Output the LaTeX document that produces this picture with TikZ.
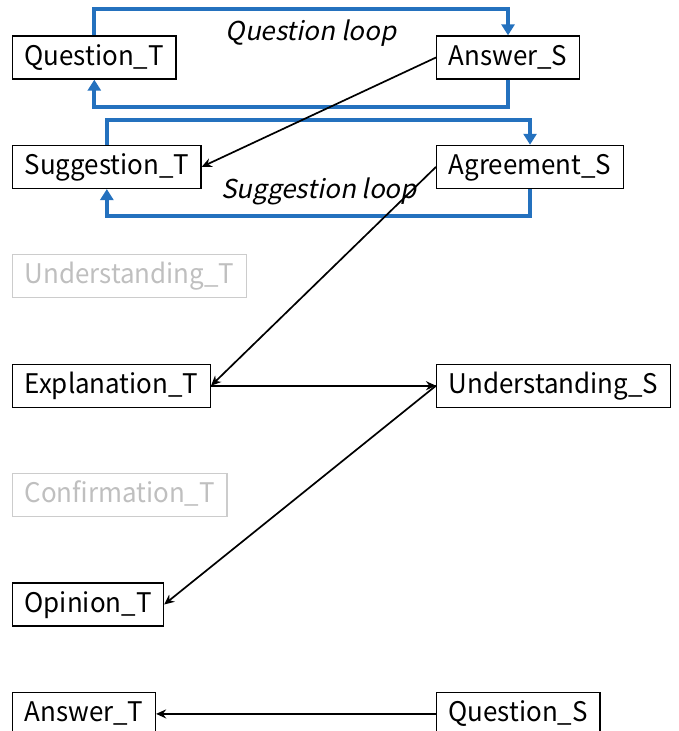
\documentclass[tikz,border=0pt]{standalone}
\usepackage{fontspec}
\setmainfont[FakeStretch=0.96]{Noto Sans CJK JP}
\newfontfamily\loopfont[FakeSlant=0.2]{Noto Sans CJK JP}
\usepackage{xcolor}
\usepackage{tikz}
\usetikzlibrary{arrows.meta}
\definecolor{loopblue}{RGB}{36,113,190}
\tikzstyle{act}=[draw,line width=1.3pt,anchor=west,minimum height=43pt,inner xsep=12pt,inner ysep=2pt,text height=20pt,text depth=5pt,font=\fontsize{27}{30}\selectfont]
\tikzstyle{unused}=[act,draw=black!20,text=black!25]
\tikzstyle{loopline}=[draw=loopblue,line width=4pt,-{Triangle[length=11pt,width=13pt]}]
\tikzstyle{turn}=[line width=1.7pt,-{Stealth[length=10pt,width=9pt]}]
\tikzstyle{looplabel}=[font=\loopfont\fontsize{26}{30}\selectfont]

\begin{document}
\begin{tikzpicture}[x=1pt,y=-1pt]
        \useasboundingbox (0,0) rectangle (678,731);
        \node at ( 12, 57.5) [act] (QT) {Question\_T};
        \node at ( 12,166.9) [act] (ST) {Suggestion\_T};
        \node at ( 12,276.3) [unused] (UT) {Understanding\_T};
        \node at ( 12,385.7) [act] (ET) {Explanation\_T};
        \node at ( 12,495.1) [unused] (CT) {Confirmation\_T};
        \node at ( 12,604.5) [act] (OT) {Opinion\_T};
        \node at ( 12,713.9) [act] (AT) {Answer\_T};
        \node at (436, 57.5) [act] (AS) {Answer\_S};
        \node at (436,166.9) [act] (GS) {Agreement\_S};
        \node at (436,385.7) [act] (US) {Understanding\_S};
        \node at (436,713.9) [act] (QS) {Question\_S};
        \draw [loopline] (QT.north) -- ++(0,-26) -| (AS.north);
        \draw [loopline] (AS.south) -- ++(0,27) -| (QT.south);
        \draw [loopline] (ST.north) -- ++(0,-25) -| (GS.north);
        \draw [loopline] (GS.south) -- ++(0,27) -| (ST.south);
        \node at (311,33) [looplabel] (qloop) {Question loop};
        \node at (319,191) [looplabel] (sloop) {Suggestion loop};
        \draw [turn] (AS.west) to (ST.east);
        \draw [turn] (GS.west) to (ET.east);
        \draw [turn] (ET.east) to (US.west);
        \draw [turn] (US.west) to (OT.east);
        \draw [turn] (QS.west) to (AT.east);
      \end{tikzpicture}
\end{document}
